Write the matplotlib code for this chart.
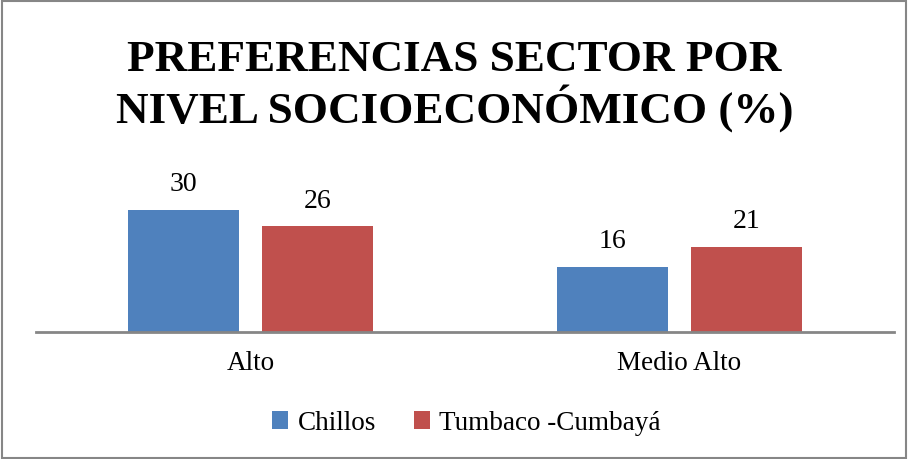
import numpy as np
import matplotlib
matplotlib.use("Agg")
import matplotlib.pyplot as plt
from matplotlib.patches import Rectangle

categories = ["Alto", "Medio Alto"]
series_names = ["Chillos", "Tumbaco -Cumbayá"]
chillos = [30, 16]
tumbaco = [26, 21]
colors = ["#4F81BD", "#C0504D"]

plt.rcParams['font.family'] = ['Liberation Serif', 'DejaVu Serif']

fig = plt.figure(figsize=(9.09, 4.59), dpi=100)
ax = fig.add_axes([36/909, 1 - 332/459, 858/909, (332 - 189.6)/459])

x = np.arange(len(categories))
w = 0.26
off = 0.156
b1 = ax.bar(x - off, chillos, w, color=colors[0], label=series_names[0])
b2 = ax.bar(x + off, tumbaco, w, color=colors[1], label=series_names[1])

for bars in (b1, b2):
    for rect in bars:
        h = rect.get_height()
        ax.annotate(f"{h:g}", (rect.get_x() + rect.get_width() / 2, h),
                    xytext=(0, 9), textcoords="offset points",
                    ha="center", va="bottom", fontsize=20)

ax.set_xlim(-0.5, 1.5)
ax.set_ylim(0, 35)
ax.set_yticks([])
ax.set_xticks(x)
ax.set_xticklabels(categories, fontsize=19.5)
ax.tick_params(axis="x", length=0, pad=14)
for s in ["top", "right", "left"]:
    ax.spines[s].set_visible(False)
ax.spines["bottom"].set_color("#868686")
ax.spines["bottom"].set_linewidth(2)

fig.text(0.5, 1 - 86/459, "PREFERENCIAS SECTOR POR\nNIVEL SOCIOECONÓMICO (%)",
         ha="center", va="center", fontsize=32.5, fontweight="bold",
         linespacing=1.12)

fig.legend(handles=[b1, b2], labels=series_names, loc="center",
           bbox_to_anchor=(0.513, 1 - 423/459), ncol=2, frameon=False,
           fontsize=19.5, handlelength=0.6, handleheight=0.6,
           handletextpad=0.35, columnspacing=1.4)

fig.patches.append(Rectangle((0.002, 0.002), 0.995, 0.995, transform=fig.transFigure,
                             fill=False, edgecolor="#868686", linewidth=1.5))

fig.savefig("out.png", dpi=100)
